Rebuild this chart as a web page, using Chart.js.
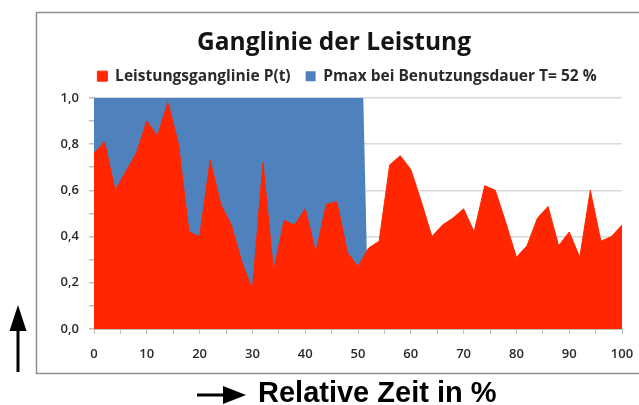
<!DOCTYPE html>
<html>
<head>
<meta charset="utf-8">
<script src="https://cdn.jsdelivr.net/npm/chart.js@4.4.1/dist/chart.umd.min.js"></script>
<style>
  html, body { margin: 0; padding: 0; background: #ffffff; }
  #wrap { width: 639px; height: 405px; position: relative; }
</style>
</head>
<body>
<div id="wrap"><canvas id="c" width="639" height="405"></canvas></div>
<script>
// ---- data ----
const chartTitle = 'Ganglinie der Leistung';
const seriesNames = ['Leistungsganglinie P(t)', 'Pmax bei Benutzungsdauer T= 52 %'];
const axisCaption = 'Relative Zeit in %';

const zeit = [0, 2, 4, 6, 8, 10, 12, 14, 16, 18, 20, 22, 24, 26, 28, 30, 32, 34, 36, 38, 40,
              42, 44, 46, 48, 50, 52, 54, 56, 58, 60, 62, 64, 66, 68, 70, 72, 74, 76, 78, 80,
              82, 84, 86, 88, 90, 92, 94, 96, 98, 100];
const leistung = [0.76, 0.81, 0.60, 0.68, 0.76, 0.90, 0.835, 0.98, 0.80, 0.42, 0.40, 0.73, 0.54, 0.45, 0.29, 0.17, 0.72, 0.25, 0.47, 0.45, 0.52,
                  0.33, 0.54, 0.55, 0.33, 0.27, 0.35, 0.38, 0.71, 0.75, 0.69, 0.55, 0.40, 0.45, 0.48, 0.52, 0.42, 0.62, 0.60, 0.46, 0.31,
                  0.36, 0.48, 0.53, 0.36, 0.42, 0.31, 0.60, 0.38, 0.40, 0.45];
const pmaxZeit = [0, 51, 52];
const pmaxWert = [1.0, 1.0, 0.0];

const xTickLabels = [0, 10, 20, 30, 40, 50, 60, 70, 80, 90, 100];
const yTickLabels = [0.0, 0.2, 0.4, 0.6, 0.8, 1.0];

const RED = '#ff2600';
const BLUE = '#4f81bd';
const FONT = "'Open Sans', 'Noto Sans', sans-serif";

const decoPlugin = {
  id: 'deco',
  afterLayout(chart) {
    // nudge legend and title to the places they have in the reference
    const lg = chart.legend;
    if (lg) {
      const dx = 18, dy = -4;
      lg.left += dx; lg.right += dx; lg.top += dy; lg.bottom += dy;
    }
    const tb = chart.titleBlock;
    if (tb) {
      tb.left += 5; tb.right += 5;
    }
  },
  beforeDraw(chart) {
    const ctx = chart.ctx;
    ctx.save();
    ctx.fillStyle = '#ffffff';
    ctx.fillRect(0, 0, chart.width, chart.height);
    ctx.restore();
  },
  afterDraw(chart) {
    const ctx = chart.ctx;
    ctx.save();
    // frame of the chart object
    ctx.strokeStyle = '#8e8e8e';
    ctx.lineWidth = 1.5;
    ctx.strokeRect(36.5, 12.5, 700, 361);
    // up arrow
    ctx.fillStyle = '#000000';
    ctx.fillRect(16.5, 328, 3, 44);
    ctx.beginPath();
    ctx.moveTo(18, 305); ctx.lineTo(9.5, 331); ctx.lineTo(26.5, 331); ctx.closePath();
    ctx.fill();
    // right arrow
    ctx.fillRect(197, 393.5, 30, 3);
    ctx.beginPath();
    ctx.moveTo(223, 386); ctx.lineTo(246, 395); ctx.lineTo(223, 404); ctx.closePath();
    ctx.fill();
    // caption
    ctx.font = "bold 29px 'Liberation Sans', Arial, sans-serif";
    ctx.textBaseline = 'alphabetic';
    ctx.textAlign = 'left';
    ctx.fillText(axisCaption, 258, 402);
    ctx.restore();
  }
};

new Chart(document.getElementById('c'), {
  type: 'line',
  data: {
    datasets: [
      {
        label: seriesNames[0],
        data: zeit.map((x, i) => ({ x: x, y: leistung[i] })),
        borderColor: RED,
        backgroundColor: RED,
        borderWidth: 1,
        pointRadius: 0,
        tension: 0,
        fill: 'origin'
      },
      {
        label: seriesNames[1],
        data: pmaxZeit.map((x, i) => ({ x: x, y: pmaxWert[i] })),
        borderColor: BLUE,
        backgroundColor: BLUE,
        borderWidth: 0,
        pointRadius: 0,
        tension: 0,
        fill: 'origin'
      }
    ]
  },
  options: {
    responsive: false,
    animation: false,
    devicePixelRatio: 1,
    layout: { padding: { left: 36, right: 17, top: 14, bottom: 0 } },
    plugins: {
      title: {
        display: true,
        text: chartTitle,
        color: '#141414',
        font: { family: FONT, size: 24.5, weight: 'bold' },
        padding: { top: 14, bottom: 0 }
      },
      legend: {
        display: true,
        labels: {
          boxWidth: 10,
          boxHeight: 10,
          padding: 15,
          color: '#2a2a2a',
          font: { family: FONT, size: 15.5, weight: 'bold' }
        }
      },
      tooltip: { enabled: false }
    },
    scales: {
      x: {
        type: 'linear',
        min: 0,
        max: 100,
        ticks: {
          stepSize: 5,
          autoSkip: false,
          maxRotation: 0,
          color: '#2a2a2a',
          padding: 12,
          font: { family: FONT, size: 13, weight: '600' },
          callback: (v) => (xTickLabels.includes(v) ? String(v) : '')
        },
        grid: {
          drawOnChartArea: false,
          drawTicks: true,
          tickLength: 5,
          tickColor: '#bfbfbf'
        },
        border: { color: '#bfbfbf', width: 1 },
        afterFit: (s) => { s.height = 76; s.paddingRight = 14; }
      },
      y: {
        min: 0,
        max: 1,
        ticks: {
          stepSize: 0.1,
          autoSkip: false,
          color: '#2a2a2a',
          padding: 10,
          font: { family: FONT, size: 13, weight: '600' },
          callback: (v) => {
            const r = Math.round(v * 10) / 10;
            return yTickLabels.some(t => Math.abs(t - r) < 1e-6) ? r.toFixed(1).replace('.', ',') : '';
          }
        },
        grid: {
          color: (c) => {
            const r = Math.round(c.tick.value * 10);
            return (r % 2 === 0 && r !== 0) ? '#d9d9d9' : 'rgba(0,0,0,0)';
          },
          lineWidth: 1.5,
          tickLength: 5,
          tickColor: '#bfbfbf'
        },
        border: { color: '#bfbfbf', width: 1 },
        afterFit: (s) => { s.width = 58; }
      }
    }
  },
  plugins: [decoPlugin]
});
</script>
</body>
</html>
